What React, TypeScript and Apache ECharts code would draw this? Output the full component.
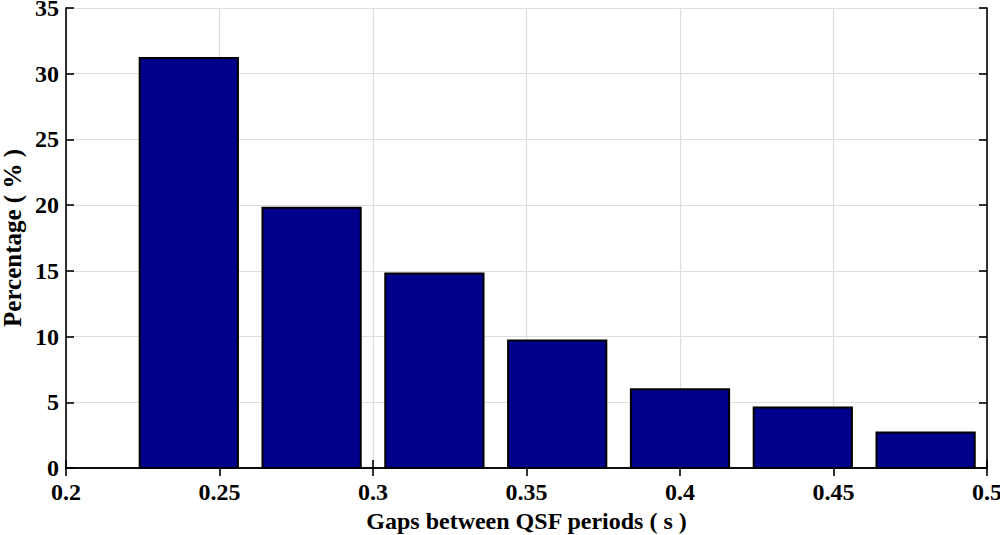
import React, { useEffect, useRef } from "react";
import * as echarts from "echarts";

const binCenters = [0.24, 0.28, 0.32, 0.36, 0.4, 0.44, 0.48];
const percentages = [31.2, 19.8, 14.8, 9.7, 6.0, 4.6, 2.7];
const binWidth = 0.032;
const xTicks = { min: 0.2, max: 0.5, interval: 0.05 };
const yTicks = { min: 0, max: 35, interval: 5 };

const FONT = "'Liberation Serif', 'Times New Roman', serif";

export default function App() {
  const ref = useRef<HTMLDivElement>(null);
  useEffect(() => {
    if (!ref.current) return;
    const chart = echarts.init(ref.current, null, { renderer: "svg" });
    const data = binCenters.map((c, i) => [c, percentages[i]]);
    const axisLine = { show: true, lineStyle: { color: "#000", width: 1.6 } };
    const tick = { show: true, inside: true, length: 8, lineStyle: { color: "#000", width: 1.6 } };
    const label = { color: "#000", fontFamily: FONT, fontWeight: "bold" as const, fontSize: 24 };
    chart.setOption({
      animation: false,
      backgroundColor: "#fff",
      grid: {
        left: 66,
        right: 13,
        top: 8,
        bottom: 67,
        containLabel: false,
        outerBoundsMode: "none",
      },
      xAxis: [
        {
          type: "value",
          min: xTicks.min,
          max: xTicks.max,
          interval: xTicks.interval,
          position: "bottom",
          name: "Gaps between QSF periods ( s )",
          nameLocation: "middle",
          nameGap: 41,
          nameMoveOverlap: false,
          nameTextStyle: { ...label, fontSize: 24 },
          axisLine,
          axisTick: tick,
          axisLabel: { ...label, margin: 12 },
          splitLine: { show: true, lineStyle: { color: "#dedede", width: 1.2 } },
        },
        {
          type: "value",
          min: xTicks.min,
          max: xTicks.max,
          interval: xTicks.interval,
          position: "top",
          axisLine,
          axisTick: tick,
          axisLabel: { show: false },
          splitLine: { show: false },
        },
      ],
      yAxis: [
        {
          type: "value",
          min: yTicks.min,
          max: yTicks.max,
          interval: yTicks.interval,
          position: "left",
          name: "Percentage ( % )",
          nameLocation: "middle",
          nameGap: 41,
          nameMoveOverlap: false,
          nameTextStyle: { ...label, fontSize: 25 },
          axisLine,
          axisTick: tick,
          axisLabel: { ...label, margin: 7 },
          splitLine: { show: true, lineStyle: { color: "#dedede", width: 1.2 } },
        },
        {
          type: "value",
          min: yTicks.min,
          max: yTicks.max,
          interval: yTicks.interval,
          position: "right",
          axisLine,
          axisTick: tick,
          axisLabel: { show: false },
          splitLine: { show: false },
        },
      ],
      series: [
        {
          type: "custom",
          xAxisIndex: 0,
          yAxisIndex: 0,
          data,
          renderItem: (params: any, api: any) => {
            const x = api.value(0);
            const y = api.value(1);
            const p0 = api.coord([x - binWidth / 2, y]);
            const p1 = api.coord([x + binWidth / 2, 0]);
            return {
              type: "rect",
              shape: { x: p0[0], y: p0[1], width: p1[0] - p0[0], height: p1[1] - p0[1] },
              style: { fill: "#00008b", stroke: "#000", lineWidth: 2 },
            };
          },
        },
      ],
    });
    return () => chart.dispose();
  }, []);
  return (
    <div
      ref={ref}
      style={{ position: "absolute", left: 0, top: 0, width: 1000, height: 535 }}
    />
  );
}
